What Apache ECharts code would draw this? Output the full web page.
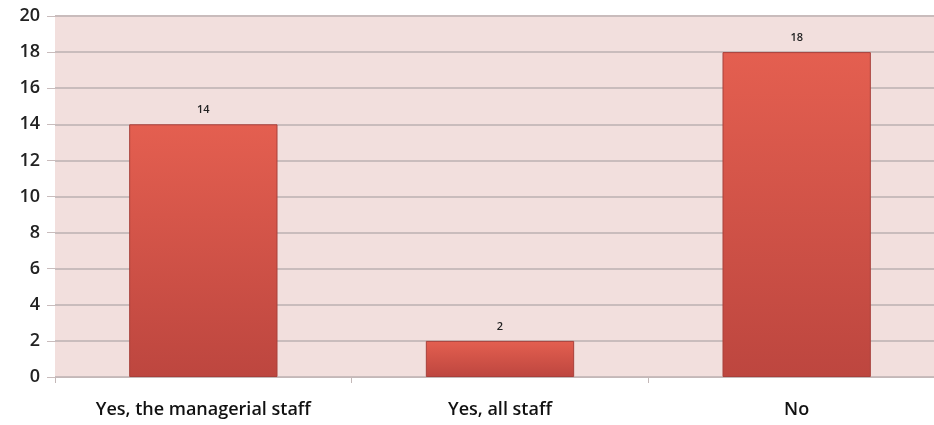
<!DOCTYPE html>
<html><head><meta charset="utf-8">
<script src="https://cdn.jsdelivr.net/npm/echarts@6/dist/echarts.min.js"></script>
<style>html,body{margin:0;padding:0;background:#fff;overflow:hidden}#c{width:934px;height:425px}</style>
</head><body><div id="c"></div>
<script>
const categories = ["Yes, the managerial staff", "Yes, all staff", "No"];
const values = [14, 2, 18];
const yTicks = [0, 2, 4, 6, 8, 10, 12, 14, 16, 18, 20];

const chart = echarts.init(document.getElementById('c'));
chart.setOption({
  animation: false,
  grid: { left: 55, top: 16, width: 890, height: 361, outerBoundsMode: 'none', containLabel: false,
          backgroundColor: '#f2dfdd', show: true, borderWidth: 0 },
  xAxis: {
    type: 'category', data: categories,
    axisLine: { show: true, lineStyle: { color: '#c4b8b8', width: 1 } },
    axisTick: { show: true, length: 6, lineStyle: { color: '#c4b8b8' } },
    axisLabel: { color: '#111', fontSize: 18, fontWeight: 600, fontFamily: 'Open Sans, sans-serif', margin: 24 }
  },
  yAxis: {
    type: 'value', min: yTicks[0], max: yTicks[yTicks.length - 1], interval: 2,
    axisLine: { show: false },
    axisTick: { show: true, length: 8, lineStyle: { color: '#c9bcbc' } },
    splitLine: { lineStyle: { color: '#c9bcbc', width: 2 } },
    axisLabel: { color: '#222', fontSize: 18, fontWeight: 600, fontFamily: 'Open Sans, sans-serif', margin: 15 }
  },
  series: [{
    type: 'bar', data: values, barWidth: '50%',
    itemStyle: {
      borderColor: '#a8403b', borderWidth: 1,
      color: new echarts.graphic.LinearGradient(0, 0, 0, 1, [
        { offset: 0, color: '#e45f50' },
        { offset: 1, color: '#bd463f' }
      ])
    },
    label: { show: true, position: 'top', color: '#222', fontSize: 11, fontWeight: 600, fontFamily: 'Open Sans, sans-serif', distance: 9 }
  }]
});
</script></body></html>
